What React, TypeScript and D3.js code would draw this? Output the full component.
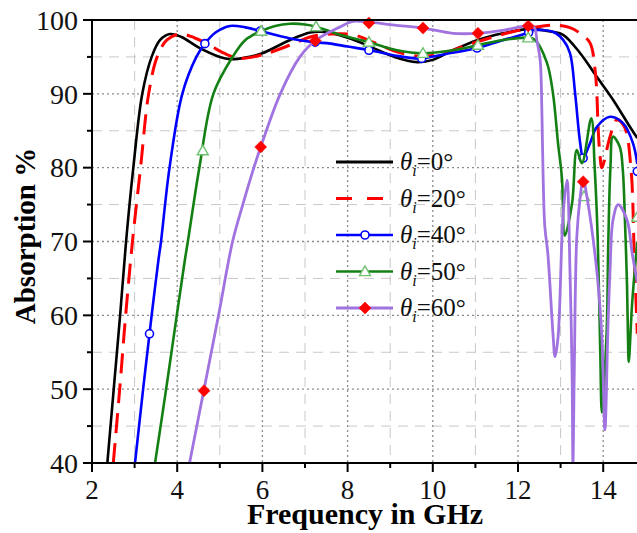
import React from 'react';
import * as d3 from 'd3';

type Pt = [number, number];

const xTicks = [2, 4, 6, 8, 10, 12, 14];
const xMinorTicks = [3, 5, 7, 9, 11, 13, 15];
const yTicks = [40, 50, 60, 70, 80, 90, 100];
const yMinorTicks = [45, 55, 65, 75, 85, 95];

const angles = ['0°', '20°', '40°', '50°', '60°'];

const theta0: Pt[] = [[2.36,40],[2.51,50],[2.66,60],[2.8,70],[2.97,80],[3.18,90],[3.4,95],[3.6,97.3],[3.83,98.1],[4.1,97.7],[4.5,96.3],[5.0,95.0],[5.24,94.7],[5.6,94.9],[6.0,95.5],[6.65,97.3],[7.12,98.3],[7.4,98.4],[8.0,97.6],[8.53,96.4],[9.1,95.0],[9.63,94.3],[10.0,94.6],[10.47,95.9],[11.06,97.3],[11.65,98.2],[12.28,98.8],[12.8,98.4],[13.06,98.0],[13.46,95.5],[13.85,92.3],[14.23,89.2],[14.63,85.5],[14.8,84.0]];

const theta20: Pt[] = [[2.5,40],[2.65,50],[2.79,60],[2.95,70],[3.14,80],[3.33,90],[3.53,95],[3.76,97.3],[4.07,98.1],[4.4,97.6],[4.7,96.8],[5.1,95.5],[5.47,94.8],[6.0,95.3],[6.65,96.6],[7.12,97.7],[7.6,98.1],[8.13,98.0],[8.6,97.0],[9.1,95.8],[9.7,95.1],[10.2,95.4],[10.7,96.4],[11.3,97.5],[11.8,98.3],[12.28,98.9],[12.82,99.3],[13.2,99.0],[13.46,98.2],[13.69,96.9],[13.81,93.2],[13.85,90.1],[13.88,85.5],[13.92,82],[13.97,80],[14.16,84.2],[14.32,86.5],[14.5,85.5],[14.65,80],[14.73,68],[14.8,57.5]];

const theta40: Pt[] = [[3.01,40],[3.2,50],[3.35,57.5],[3.4,60],[3.56,67.5],[3.62,70],[3.82,80],[4.12,90],[4.45,95],[4.65,96.8],[4.9,98.3],[5.24,99.2],[5.6,99.0],[5.95,98.5],[6.65,97.5],[7.2,97.0],[7.6,96.8],[8.0,96.4],[8.53,95.9],[9.1,95.2],[9.7,94.8],[10.3,95.4],[11.04,96.2],[11.6,97.2],[12.2,98.2],[12.35,98.6],[12.82,98.4],[13.06,97.3],[13.22,95.5],[13.34,90.1],[13.46,83.3],[13.53,81.3],[13.69,83.3],[13.85,85.5],[14.16,86.9],[14.47,86.0],[14.7,83.3],[14.8,80.5]];

const theta50: Pt[] = [[3.48,40],[3.74,50],[3.99,60],[4.18,67.5],[4.25,70],[4.52,80],[4.85,90],[5.3,95],[5.6,97.3],[5.97,98.5],[6.3,99.2],[6.65,99.5],[7.0,99.4],[7.26,99.1],[7.82,98.0],[8.5,97.0],[9.16,95.9],[9.77,95.5],[10.47,95.9],[11.06,96.6],[11.65,97.3],[12.24,97.6],[12.4,97.3],[12.68,94.2],[12.82,90.1],[12.94,83.3],[13.03,78.7],[13.1,70.8],[13.27,75.2],[13.38,82.4],[13.5,80.6],[13.72,86.7],[13.8,80],[13.87,70.6],[13.93,55.3],[13.97,46.8],[14.08,57.6],[14.12,70],[14.17,80],[14.23,84.2],[14.39,82.8],[14.46,79.7],[14.51,72.9],[14.56,63.9],[14.58,57.6],[14.6,53.7],[14.68,61.7],[14.8,70]];

const theta60: Pt[] = [[4.29,40],[4.63,50],[4.97,60],[5.3,70],[5.54,75],[5.8,80],[5.96,82.8],[6.42,90],[6.88,95],[7.24,97.2],[7.8,99.0],[8.13,99.8],[8.5,99.7],[9.1,99.3],[9.77,98.9],[10.47,98.2],[11.06,98.2],[11.65,98.6],[12.24,99.2],[12.38,99.0],[12.45,97.0],[12.52,94.6],[12.56,87.8],[12.59,78.7],[12.63,72],[12.7,68.4],[12.82,57.6],[12.87,54.4],[12.94,57],[13.06,73.8],[13.15,78.3],[13.22,66],[13.27,52],[13.29,40],[13.32,52],[13.38,70.6],[13.46,76],[13.53,78.5],[13.62,76],[13.85,66],[13.97,57],[14.04,44.5],[14.11,58],[14.16,66],[14.23,72.9],[14.35,75],[14.56,72.9],[14.68,68.4],[14.8,64.5]];

const markers40: Pt[] = [[3.35,57.5],[4.65,96.8],[5.95,98.5],[7.24,97.0],[8.5,95.9],[9.74,94.8],[11.04,96.2],[12.25,98.3],[13.53,81.3],[14.8,79.5]];
const markers50: Pt[] = [[4.6,82.3],[5.97,98.5],[7.26,99.1],[8.5,97.0],[9.77,95.5],[11.06,96.6],[12.24,97.6],[13.55,76.1],[14.8,73.3]];
const markers60: Pt[] = [[4.63,49.8],[5.96,82.8],[7.24,97.2],[8.5,99.6],[9.77,98.9],[11.06,98.2],[12.24,99.2],[13.53,78.1]];

const W = 637;
const H = 533;
const L = 92, T = 20, B = 463;
const R = L + 13 * 42.6;

const x = d3.scaleLinear().domain([2, 15]).range([L, R]);
const y = d3.scaleLinear().domain([40, 100]).range([B, T]);

const line = d3.line<Pt>().x(d => x(d[0])).y(d => y(d[1])).curve(d3.curveCatmullRom.alpha(0.5));

const BLACK = '#000000';
const RED = '#ff0000';
const BLUE = '#0000ff';
const GREEN = '#148014';
const GREEN_MARK = '#6fc06f';
const PURPLE = '#a073e0';

const serif = '"Liberation Serif", "Times New Roman", serif';

function Circle({ cx, cy }: { cx: number; cy: number }) {
  return <circle cx={cx} cy={cy} r={4} fill="#fff" stroke={BLUE} strokeWidth={1.6} />;
}
function Tri({ cx, cy }: { cx: number; cy: number }) {
  const s = 5.5;
  return <path d={`M${cx},${cy - s}L${cx + s},${cy + s * 0.75}L${cx - s},${cy + s * 0.75}Z`} fill="#fff" stroke={GREEN_MARK} strokeWidth={1.4} />;
}
function Dia({ cx, cy }: { cx: number; cy: number }) {
  const s = 6;
  return <path d={`M${cx},${cy - s}L${cx + s},${cy}L${cx},${cy + s}L${cx - s},${cy}Z`} fill={RED} stroke={RED} strokeWidth={0.5} />;
}

export default function App() {
  const legend = [
    { color: BLACK, dash: undefined, width: 3, marker: null },
    { color: RED, dash: '16,15', width: 3, marker: null },
    { color: BLUE, dash: undefined, width: 2.6, marker: 'c' },
    { color: GREEN, dash: undefined, width: 2.6, marker: 't' },
    { color: PURPLE, dash: undefined, width: 2.8, marker: 'd' },
  ];
  const legendY = [162, 198.5, 235, 271.5, 308];
  return (
    <svg width={W} height={H} style={{ position: 'absolute', left: 0, top: 0, background: '#fff' }}>
      <defs>
        <clipPath id="plot">
          <rect x={L} y={T - 4} width={R - L} height={B - T + 4} />
        </clipPath>
      </defs>
      {/* grid */}
      <g>
        {yMinorTicks.map(v => (
          <line key={'ym' + v} x1={L} x2={R} y1={y(v)} y2={y(v)} stroke="#c8c8c8" strokeWidth={1} strokeDasharray="10,7" />
        ))}
        {xMinorTicks.map(v => (
          <line key={'xm' + v} x1={x(v)} x2={x(v)} y1={T} y2={B} stroke="#c8c8c8" strokeWidth={1} strokeDasharray="10,7" />
        ))}
        {yTicks.filter(v => v > 40 && v < 100).map(v => (
          <line key={'yg' + v} x1={L} x2={R} y1={y(v)} y2={y(v)} stroke="#8c8c8c" strokeWidth={1.3} strokeDasharray="2,3" />
        ))}
        {xTicks.filter(v => v > 2).map(v => (
          <line key={'xg' + v} x1={x(v)} x2={x(v)} y1={T} y2={B} stroke="#8c8c8c" strokeWidth={1.3} strokeDasharray="2,3" />
        ))}
      </g>
      {/* curves */}
      <g clipPath="url(#plot)">
        <path d={line(theta0) || ''} fill="none" stroke={BLACK} strokeWidth={2.6} />
        <path d={line(theta20) || ''} fill="none" stroke={RED} strokeWidth={3} strokeDasharray="20,10" />
        <path d={line(theta40) || ''} fill="none" stroke={BLUE} strokeWidth={2.6} />
        {markers40.map((p, i) => <Circle key={'c' + i} cx={x(p[0])} cy={y(p[1])} />)}
        <path d={line(theta50) || ''} fill="none" stroke={GREEN} strokeWidth={2.6} />
        {markers50.map((p, i) => <Tri key={'t' + i} cx={x(p[0])} cy={y(p[1])} />)}
        <path d={line(theta60) || ''} fill="none" stroke={PURPLE} strokeWidth={2.8} />
        {markers60.map((p, i) => <Dia key={'d' + i} cx={x(p[0])} cy={y(p[1])} />)}
      </g>
      {/* axes */}
      <line x1={L} x2={R} y1={T} y2={T} stroke="#000" strokeWidth={2} />
      <line x1={L} x2={L} y1={T - 1} y2={B + 1} stroke="#000" strokeWidth={2} />
      <line x1={L - 1} x2={R} y1={B} y2={B} stroke="#000" strokeWidth={2} />
      {yTicks.map(v => (
        <line key={'yt' + v} x1={L - 9} x2={L} y1={y(v)} y2={y(v)} stroke="#000" strokeWidth={2} />
      ))}
      {yMinorTicks.map(v => (
        <line key={'ymt' + v} x1={L - 5} x2={L} y1={y(v)} y2={y(v)} stroke="#000" strokeWidth={2} />
      ))}
      {xTicks.map(v => (
        <line key={'xt' + v} x1={x(v)} x2={x(v)} y1={B} y2={B + 9} stroke="#000" strokeWidth={2} />
      ))}
      {xMinorTicks.map(v => (
        <line key={'xmt' + v} x1={x(v)} x2={x(v)} y1={B} y2={B + 5} stroke="#000" strokeWidth={2} />
      ))}
      {/* tick labels */}
      {yTicks.map(v => (
        <text key={'yl' + v} x={L - 14} y={y(v)} dy="0.35em" textAnchor="end" fontFamily={serif} fontSize={28} fill="#111">{v}</text>
      ))}
      {xTicks.map(v => (
        <text key={'xl' + v} x={x(v)} y={499} textAnchor="middle" fontFamily={serif} fontSize={27} fill="#111">{v}</text>
      ))}
      {/* axis titles */}
      <text x={365} y={524} textAnchor="middle" fontFamily={serif} fontSize={30} fontWeight="bold" fill="#000">Frequency in GHz</text>
      <text transform="translate(35,236) rotate(-90)" textAnchor="middle" fontFamily={serif} fontSize={29} fontWeight="bold" fill="#000">Absorption %</text>
      {/* legend */}
      {legend.map((e, i) => {
        const ly = legendY[i];
        return (
          <g key={'lg' + i}>
            <line x1={336} x2={393} y1={ly} y2={ly} stroke={e.color} strokeWidth={e.width} strokeDasharray={e.dash} />
            {e.marker === 'c' && <Circle cx={365} cy={ly} />}
            {e.marker === 't' && <Tri cx={365} cy={ly} />}
            {e.marker === 'd' && <Dia cx={365} cy={ly} />}
            <text x={400} y={ly + 8} fontFamily={serif} fontSize={25} fill="#111">
              <tspan fontStyle="italic">θ</tspan>
              <tspan fontStyle="italic" fontSize={16} dy={6}>i</tspan>
              <tspan dy={-6}>={angles[i]}</tspan>
            </text>
          </g>
        );
      })}
    </svg>
  );
}
